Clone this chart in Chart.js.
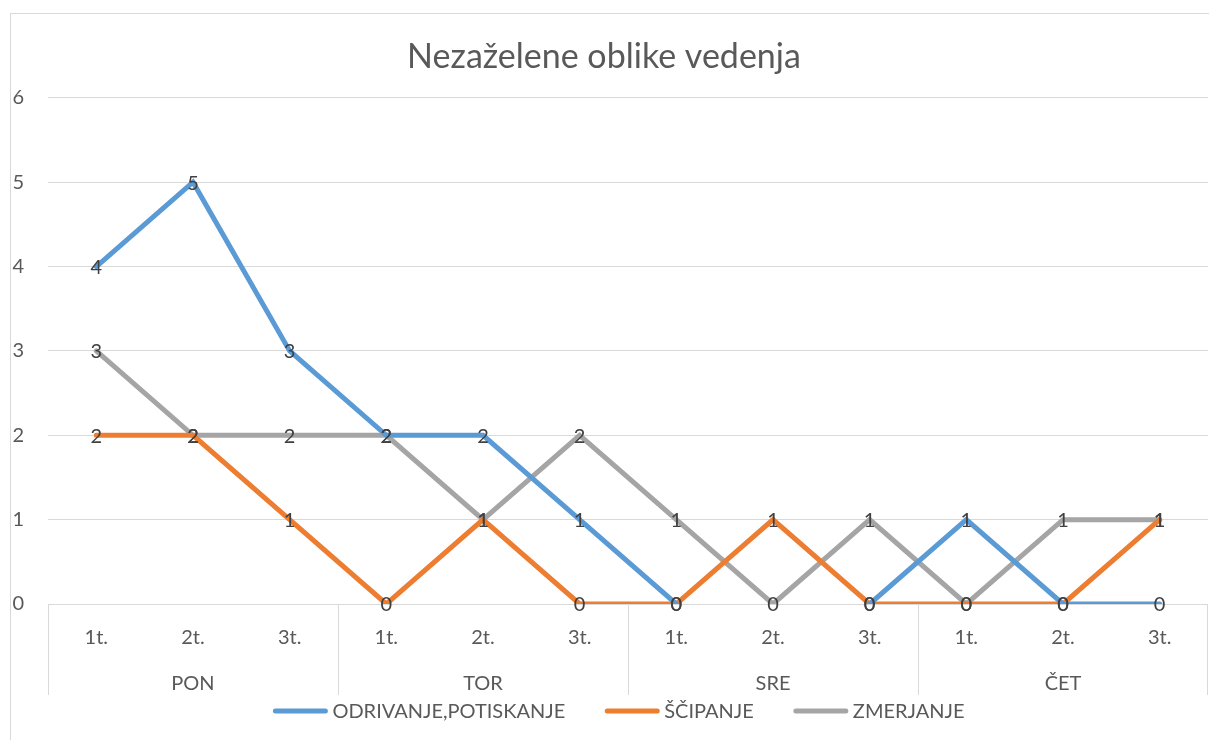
<!DOCTYPE html>
<html>
<head>
<meta charset="utf-8">
<script src="https://cdn.jsdelivr.net/npm/chart.js@4.4.1/dist/chart.umd.min.js"></script>
<style>
    body { margin: 0; background: #fff; }
    #wrap { width: 1209px; height: 740px; }
</style>
</head>
<body>
<div id="wrap"><canvas id="Chart_Vedenje"></canvas></div>
<script>
let categories = ["1t.", "2t.", "3t.", "1t.", "2t.", "3t.", "1t.", "2t.", "3t.", "1t.", "2t.", "3t."];
let days = ["PON", "TOR", "SRE", "ČET"];
let odrivanje = [4, 5, 3, 2, 2, 1, 0, null, 0, 1, 0, 0];
let scipanje = [2, 2, 1, 0, 1, 0, 0, 1, 0, 0, 0, 1];
let zmerjanje = [3, 2, 2, 2, 1, 2, 1, 0, 1, 0, 1, 1];
let yMax = 6;

let textColor = "#595959";
let gridColor = "#d9d9d9";
let font = "Lato";

// frame round the whole chart
let framePlugin = {
    id: "frame",
    beforeDraw: (chart) => {
        let ctx = chart.ctx;
        ctx.save();
        ctx.strokeStyle = gridColor;
        ctx.lineWidth = 1;
        ctx.strokeRect(10.5, 13.5, chart.width + 20, chart.height + 20);
        ctx.restore();
    }
};

// values written on top of every point
let valueLabels = {
    id: "valueLabels",
    afterDatasetsDraw: (chart) => {
        let ctx = chart.ctx;
        ctx.save();
        ctx.font = "20px " + font;
        ctx.fillStyle = "#404040";
        ctx.textAlign = "center";
        ctx.textBaseline = "middle";
        chart.data.datasets.forEach((ds, i) => {
            let meta = chart.getDatasetMeta(i);
            meta.data.forEach((pt, j) => {
                if (ds.data[j] === null) return;
                ctx.fillText(ds.data[j], pt.x, pt.y + 1);
            });
        });
        ctx.restore();
    }
};

// second row of the x axis: day names and separators
let dayAxis = {
    id: "dayAxis",
    afterDraw: (chart) => {
        let ctx = chart.ctx;
        let x = chart.scales.x;
        let top = chart.chartArea.bottom;
        let bottom = top + 91;
        let per = categories.length / days.length;
        ctx.save();
        ctx.strokeStyle = gridColor;
        ctx.lineWidth = 1;
        ctx.font = "20px " + font;
        ctx.fillStyle = textColor;
        ctx.textAlign = "center";
        ctx.textBaseline = "middle";
        for (let d = 0; d <= days.length; d++) {
            let px;
            if (d == 0) px = x.left;
            else if (d == days.length) px = x.right - 1;
            else px = (x.getPixelForValue(d * per - 1) + x.getPixelForValue(d * per)) / 2;
            px = Math.round(px) + 0.5;
            ctx.beginPath();
            ctx.moveTo(px, top);
            ctx.lineTo(px, bottom);
            ctx.stroke();
        }
        days.forEach((name, d) => {
            let a = x.getPixelForValue(d * per);
            let b = x.getPixelForValue(d * per + per - 1);
            ctx.fillText(name, (a + b) / 2, top + 80);
        });
        ctx.restore();
    }
};

// legend under the axis: short line and series name
let lineLegend = {
    id: "lineLegend",
    afterDraw: (chart) => {
        let ctx = chart.ctx;
        let lineLen = 56, gap = 4, space = 39;
        let y = chart.chartArea.bottom + 107;
        ctx.save();
        ctx.font = "20px " + font;
        let total = 0;
        chart.data.datasets.forEach((ds, i) => {
            total += lineLen + gap + ctx.measureText(ds.label).width;
            if (i > 0) total += space;
        });
        let x = chart.width / 2 + 14 - total / 2;
        ctx.textBaseline = "middle";
        ctx.textAlign = "left";
        chart.data.datasets.forEach((ds) => {
            ctx.strokeStyle = ds.borderColor;
            ctx.lineWidth = 5;
            ctx.lineCap = "round";
            ctx.beginPath();
            ctx.moveTo(x + 3, y);
            ctx.lineTo(x + lineLen - 3, y);
            ctx.stroke();
            x += lineLen + gap;
            ctx.fillStyle = textColor;
            ctx.fillText(ds.label, x, y + 1);
            x += ctx.measureText(ds.label).width + space;
        });
        ctx.restore();
    }
};

let datasets = [
    { label: "ODRIVANJE,POTISKANJE", data: odrivanje, borderColor: "#5B9BD5", backgroundColor: "#5B9BD5" },
    { label: "ŠČIPANJE", data: scipanje, borderColor: "#ED7D31", backgroundColor: "#ED7D31" },
    { label: "ZMERJANJE", data: zmerjanje, borderColor: "#A5A5A5", backgroundColor: "#A5A5A5" }
];
datasets.forEach(ds => {
    ds.borderWidth = 5;
    ds.pointRadius = 0;
    ds.pointHoverRadius = 0;
    ds.tension = 0;
    ds.borderCapStyle = "round";
    ds.spanGaps = false;
});

new Chart("Chart_Vedenje", {
    type: "line",
    data: { labels: categories, datasets: datasets },
    plugins: [framePlugin, valueLabels, dayAxis, lineLegend],
    options: {
        responsive: true,
        maintainAspectRatio: false,
        animation: false,
        layout: { padding: { left: 0, right: 1, top: 0, bottom: 44 } },
        plugins: {
            title: {
                display: true,
                text: "Nezaželene oblike vedenja",
                color: textColor,
                font: { family: font, size: 34, weight: "normal" },
                padding: { top: 37, bottom: 20 }
            },
            legend: { display: false },
            tooltip: { enabled: false }
        },
        scales: {
            x: {
                offset: true,
                grid: { display: false, drawTicks: false },
                border: { display: false },
                ticks: { color: textColor, font: { family: font, size: 20 }, padding: 22, maxRotation: 0, autoSkip: false },
                afterFit: (scale) => { scale.height = 92; }
            },
            y: {
                min: 0,
                max: yMax,
                ticks: { stepSize: 1, color: textColor, font: { family: font, size: 20 }, padding: 24 },
                grid: { color: gridColor, drawTicks: false },
                border: { display: false },
                afterFit: (scale) => { scale.width = 48; }
            }
        }
    }
});
</script>
</body>
</html>
